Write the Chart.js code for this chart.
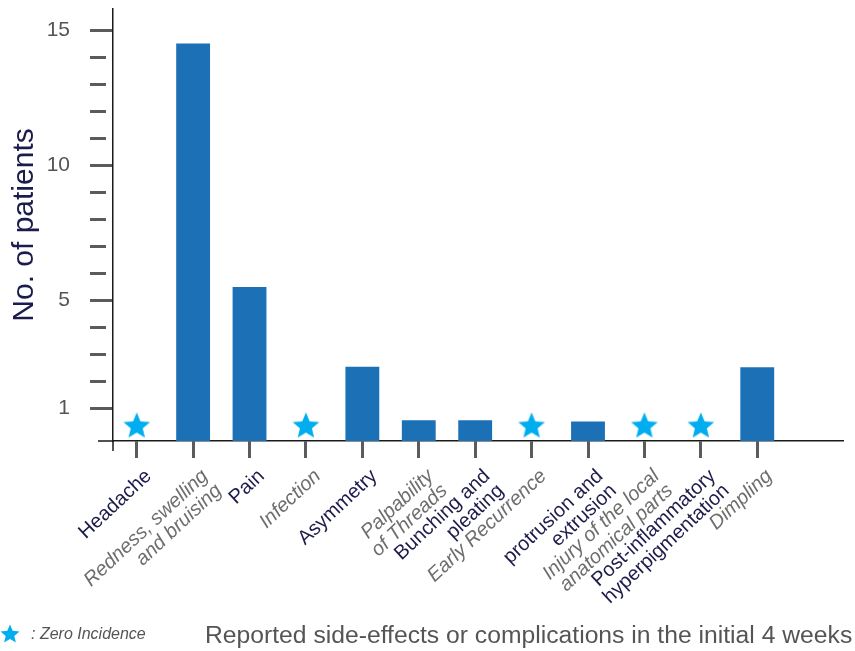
<!DOCTYPE html>
<html lang="en">
<head>
<meta charset="UTF-8">
<title>Reported side-effects or complications in the initial 4 weeks</title>
<script src="https://cdn.jsdelivr.net/npm/chart.js@4.4.1/dist/chart.umd.min.js"></script>
<style>
    body {
        margin: 0;
        background: #fff;
        font-family: 'Liberation Sans', Arial, sans-serif;
    }
    #wrap {
        position: relative;
        width: 855px;
        height: 651px;
    }
    #legend {
        position: absolute;
        left: 0px;
        top: 624px;
        height: 20px;
        display: flex;
        align-items: center;
        font-size: 16px;
        font-style: italic;
        color: #555;
    }
    #legend span { margin-left: 11px; }
    #xtitle {
        position: absolute;
        left: 205px;
        top: 623px;
        font-size: 24.7px;
        line-height: 24px;
        color: #555;
        white-space: nowrap;
    }
</style>
</head>
<body>
<div id="wrap">
    <canvas id="chart"></canvas>
    <div id="legend">
        <svg width="20" height="20" viewBox="-10 -10.5 20 20"><polygon id="legendStar" fill="#00aeef"/></svg>
        <span>: Zero Incidence</span>
    </div>
    <div id="xtitle">Reported side-effects or complications in the initial 4 weeks</div>
</div>

<script>
// categories (multi-line labels as arrays)
const categories = [
    ['Headache'],
    ['Redness, swelling', 'and bruising'],
    ['Pain'],
    ['Infection'],
    ['Asymmetry'],
    ['Palpability', 'of Threads'],
    ['Bunching and', 'pleating'],
    ['Early Recurrence'],
    ['protrusion and', 'extrusion'],
    ['Injury of the local', 'anatomical parts'],
    ['Post-inflammatory', 'hyperpigmentation'],
    ['Dimpling']
];
// number of patients (0 = zero incidence, shown with a star)
const patients = [0, 14.5, 5.5, 0, 2.55, 0.57, 0.57, 0, 0.52, 0, 0, 2.53];
const yTickValues = [1, 2, 3, 4, 5, 6, 7, 8, 9, 10, 11, 12, 13, 14, 15];
const yTickLabels = [1, 5, 10, 15];

const STAR_Y = 0.38;
const Y_MIN = -0.2;
const BAR_COLOR = '#1c71b6';
const STAR_COLOR = '#00aeef';
const DARK = '#1c1c4c';
const GREY = '#6e6e6e';
const FONT = "'Liberation Sans', Arial, sans-serif";

function starPoints(outer, inner) {
    const pts = [];
    for (let i = 0; i < 10; i++) {
        const r = i % 2 ? inner : outer;
        const a = -Math.PI / 2 + i * Math.PI / 5;
        pts.push([r * Math.cos(a), r * Math.sin(a)]);
    }
    return pts;
}

function makeStar(size) {
    const c = document.createElement('canvas');
    c.width = size; c.height = size;
    const g = c.getContext('2d');
    g.translate(size / 2, size / 2 + 1);
    g.beginPath();
    starPoints(size / 2, size / 2 * 0.45).forEach((p, i) => i ? g.lineTo(p[0], p[1]) : g.moveTo(p[0], p[1]));
    g.closePath();
    g.fillStyle = STAR_COLOR;
    g.fill();
    return c;
}

document.getElementById('legendStar').setAttribute('points',
    starPoints(10, 4.5).map(p => p.join(',')).join(' '));

// little overshoot where the two axes cross
const axisCross = {
    id: 'axisCross',
    afterDraw(chart) {
        const { ctx, chartArea: a } = chart;
        ctx.save();
        ctx.strokeStyle = '#1a1a1a';
        ctx.lineWidth = 1.5;
        ctx.beginPath();
        ctx.moveTo(a.left - 15, a.bottom);
        ctx.lineTo(a.left, a.bottom);
        ctx.moveTo(a.left, a.bottom);
        ctx.lineTo(a.left, a.bottom + 10);
        ctx.stroke();
        ctx.restore();
    }
};

new Chart(document.getElementById('chart'), {
    type: 'bar',
    data: {
        datasets: [
            {
                label: 'No. of patients',
                data: patients.map((v, i) => ({ x: i, y: v > 0 ? v : null })),
                backgroundColor: BAR_COLOR,
                base: Y_MIN,
                barPercentage: 0.6,
                categoryPercentage: 1
            },
            {
                type: 'line',
                label: 'Zero Incidence',
                data: patients.map((v, i) => ({ x: i, y: v === 0 ? STAR_Y : null })),
                showLine: false,
                pointStyle: makeStar(28),
                pointRadius: 14
            }
        ]
    },
    options: {
        responsive: true,
        maintainAspectRatio: false,
        animation: false,
        layout: { autoPadding: false, padding: { top: 9, right: 12, left: 0, bottom: 0 } },
        plugins: {
            legend: { display: false },
            tooltip: { enabled: false }
        },
        scales: {
            x: {
                type: 'linear',
                offset: false,
                min: -0.42,
                max: 12.52,
                afterFit: s => { s.height = 210; s.paddingLeft = 0; s.paddingRight = 0; },
                afterBuildTicks: s => { s.ticks = categories.map((c, i) => ({ value: i })); },
                border: { display: true, color: '#1a1a1a', width: 1.5 },
                grid: {
                    offset: false,
                    drawOnChartArea: false,
                    tickLength: 17,
                    tickColor: '#5b5b5b',
                    tickWidth: 3
                },
                ticks: {
                    autoSkip: false,
                    minRotation: 43,
                    maxRotation: 43,
                    padding: 8,
                    labelOffset: 12,
                    callback: v => categories[v],
                    color: c => (c.index % 2 ? GREY : DARK),
                    font: c => ({ family: FONT, size: 20, lineHeight: 1.0, style: c.index % 2 ? 'italic' : 'normal' })
                }
            },
            y: {
                min: Y_MIN,
                max: 15.78,
                afterFit: s => { s.width = 113; s.paddingTop = 0; s.paddingBottom = 0; },
                afterBuildTicks: s => { s.ticks = yTickValues.map(v => ({ value: v })); },
                border: { display: true, color: '#1a1a1a', width: 1.5 },
                grid: {
                    drawOnChartArea: false,
                    tickLength: 23,
                    tickColor: '#5b5b5b',
                    tickWidth: 3,
                    tickBorderDash: [23, 100],
                    tickBorderDashOffset: c => (c.tick && yTickLabels.includes(c.tick.value) ? 0 : 7)
                },
                ticks: {
                    padding: 20,
                    color: '#555',
                    font: { family: FONT, size: 21 },
                    callback: v => (yTickLabels.includes(v) ? String(v) : '')
                },
                title: {
                    display: true,
                    text: 'No. of patients',
                    color: DARK,
                    font: { family: FONT, size: 30, lineHeight: 1.2 },
                    padding: { top: 7, bottom: 0 }
                }
            }
        }
    },
    plugins: [axisCross]
});
</script>
</body>
</html>
